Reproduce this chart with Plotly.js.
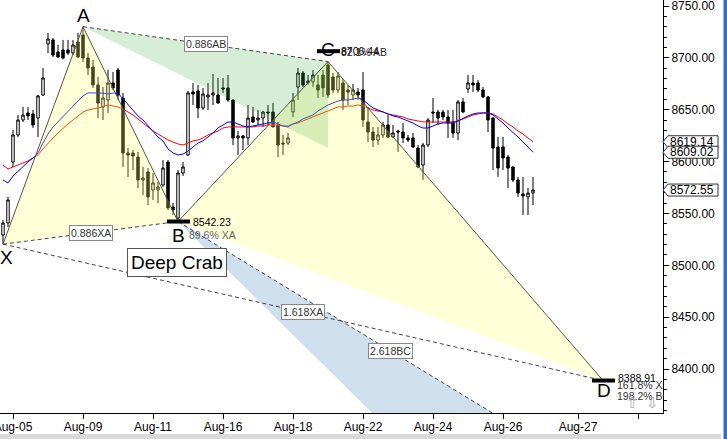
<!DOCTYPE html>
<html><head><meta charset="utf-8">
<script src="https://cdn.plot.ly/plotly-3.0.1.min.js"></script>
<style>html,body{margin:0;padding:0;background:#fff;}#chart{width:727px;height:439px;}</style>
</head><body><div id="chart"></div>
<script>
// ---- candle data (hourly bars) ----
const openP = [8529.2,8540.8,8599.6,8625.7,8640.1,8646.9,8645.9,8642.0,8664.2,8713.4,
8717.3,8705.7,8707.6,8707.6,8704.7,8715.3,8722.1,8699.9,8691.2,8673.9,
8652.7,8659.4,8675.8,8688.3,8661.3,8608.3,8608.3,8604.4,8582.3,8590.0,
8572.6,8572.6,8577.4,8599.6,8556.2,8545.6,8589.0,8606.4,8667.1,8668.1,
8651.7,8662.3,8664.2,8664.2,8671.0,8671.0,8659.4,8622.8,8624.7,8622.8,
8643.0,8640.1,8642.0,8647.8,8647.8,8635.3,8617.9,8617.9,8647.8,8671.9,
8685.4,8675.8,8676.8,8673.9,8683.5,8693.2,8681.6,8669.0,8675.8,8669.0,
8664.2,8667.1,8669.0,8638.2,8628.5,8620.8,8625.7,8635.3,8623.7,8629.5,
8628.5,8622.8,8622.8,8613.1,8596.7,8616.0,8647.8,8647.8,8647.8,8643.0,
8638.2,8627.6,8657.5,8670.0,8675.8,8675.8,8669.0,8662.3,8642.0,8614.1,
8614.1,8604.4,8594.8,8582.3,8568.8,8565.9,8569.7];
const highP = [8543.7,8565.9,8630.5,8644.9,8652.7,8652.7,8649.8,8664.2,8690.3,8724.0,
8719.2,8712.4,8717.3,8717.3,8717.3,8724.0,8730.06,8704.7,8698.0,8681.6,
8671.9,8688.3,8686.4,8690.3,8666.2,8613.1,8611.2,8609.3,8594.8,8593.8,
8589.0,8580.3,8601.5,8601.5,8560.1,8591.9,8599.6,8668.1,8675.8,8673.9,
8671.0,8675.8,8684.5,8680.6,8680.6,8683.5,8659.9,8629.5,8625.7,8654.6,
8652.7,8649.8,8648.8,8654.6,8656.5,8638.2,8625.7,8627.6,8666.2,8690.3,
8687.4,8683.5,8688.3,8683.5,8688.3,8696.44,8685.4,8686.4,8679.7,8673.9,
8674.8,8671.0,8686.4,8652.7,8633.4,8633.4,8638.2,8644.9,8635.3,8630.5,
8637.2,8625.7,8627.6,8616.0,8617.9,8642.0,8661.3,8649.8,8649.8,8649.8,
8649.8,8659.4,8661.3,8683.5,8683.5,8678.7,8671.9,8663.3,8643.0,8623.7,
8623.7,8606.4,8595.2,8585.1,8585.1,8574.5,8585.1];
const lowP = [8520.4,8536.9,8594.8,8623.7,8638.2,8640.1,8632.4,8623.7,8663.3,8704.7,
8700.9,8699.9,8698.5,8702.8,8702.8,8699.9,8696.0,8683.5,8671.0,8642.0,
8640.1,8646.9,8669.0,8659.4,8594.8,8585.1,8591.9,8574.5,8567.8,8558.1,
8563.0,8560.1,8575.5,8553.3,8548.5,8542.23,8586.1,8605.4,8654.6,8642.0,
8649.8,8649.8,8654.6,8656.0,8666.2,8657.5,8616.0,8606.4,8611.2,8616.0,
8637.2,8635.3,8633.4,8635.3,8633.0,8604.4,8606.4,8616.0,8643.0,8659.4,
8671.9,8673.9,8671.9,8661.3,8662.3,8661.3,8666.2,8666.2,8649.8,8654.6,
8659.4,8659.4,8633.4,8618.9,8614.1,8616.0,8622.8,8622.8,8622.8,8609.3,
8617.9,8618.9,8613.1,8593.8,8582.3,8614.1,8637.2,8635.3,8640.1,8622.8,
8622.8,8620.8,8646.9,8666.2,8667.1,8667.1,8661.3,8628.5,8591.9,8585.1,
8591.9,8574.5,8580.3,8565.9,8548.5,8548.5,8558.1];
const closeP = [8540.8,8563.0,8625.7,8640.1,8644.9,8644.0,8635.3,8663.3,8680.6,8718.2,
8702.8,8700.9,8699.9,8704.7,8712.4,8700.9,8699.9,8690.3,8673.9,8656.5,
8661.3,8675.8,8671.0,8664.2,8608.3,8606.4,8605.4,8582.3,8584.2,8565.9,
8579.4,8575.5,8593.8,8555.3,8553.3,8589.0,8594.8,8666.2,8665.2,8651.7,
8665.2,8664.2,8666.2,8656.5,8670.0,8659.4,8622.8,8624.7,8622.8,8642.0,
8638.2,8642.0,8647.8,8646.9,8633.4,8616.0,8617.0,8622.8,8659.4,8685.4,
8673.9,8677.7,8683.5,8669.0,8671.0,8664.2,8669.0,8682.5,8659.4,8667.1,
8669.0,8664.2,8640.1,8628.5,8620.8,8625.7,8635.3,8623.7,8627.6,8628.5,
8622.8,8620.8,8614.1,8594.8,8616.0,8640.1,8646.9,8642.0,8643.0,8637.2,
8627.6,8657.5,8647.8,8675.8,8673.9,8669.0,8662.3,8640.1,8613.1,8593.8,
8603.5,8593.8,8582.3,8569.7,8566.8,8569.7,8572.55];
// ---- moving averages ----
const maBlue = [8582.3,8579.4,8586.1,8590.9,8594.8,8599.6,8603.5,8608.3,8617.9,8626.6,
8633.4,8638.2,8643.0,8647.8,8652.7,8658.4,8663.3,8666.2,8666.2,8666.2,
8666.0,8665.2,8666.1,8666.0,8660.4,8655.5,8649.8,8644.0,8640.1,8634.3,
8628.5,8623.7,8619.9,8612.2,8608.3,8606.4,8607.3,8610.2,8614.1,8617.9,
8619.9,8623.7,8627.6,8632.4,8635.3,8638.2,8638.2,8636.3,8634.3,8633.4,
8634.3,8635.3,8636.3,8637.2,8638.2,8636.3,8634.3,8633.4,8636.3,8638.2,
8641.1,8643.0,8644.9,8648.8,8651.7,8654.6,8656.5,8658.4,8659.4,8659.4,
8660.4,8661.3,8659.4,8655.5,8651.7,8649.8,8647.8,8645.9,8644.0,8643.0,
8641.1,8639.2,8637.2,8634.3,8632.4,8632.4,8634.3,8636.3,8637.2,8637.2,
8637.2,8639.2,8642.0,8644.0,8645.9,8646.9,8646.9,8646.9,8644.9,8641.1,
8637.2,8632.4,8628.5,8623.7,8618.9,8614.1,8609.02];
const maRed = [8596.7,8592.9,8594.8,8596.7,8598.7,8600.6,8603.5,8606.4,8612.2,8617.9,
8622.8,8627.6,8632.4,8636.3,8640.1,8644.0,8647.8,8649.8,8650.7,8651.7,
8652.7,8654.6,8653.6,8652.7,8650.7,8647.8,8644.9,8641.1,8637.2,8633.4,
8629.5,8626.6,8623.7,8620.8,8618.9,8617.0,8616.0,8617.9,8619.9,8620.8,
8622.8,8625.7,8627.6,8629.5,8632.4,8633.4,8633.4,8633.4,8633.4,8633.4,
8633.4,8634.3,8634.3,8635.3,8635.3,8635.3,8634.3,8634.3,8636.3,8637.2,
8639.2,8641.1,8643.0,8644.9,8646.9,8648.8,8650.7,8652.7,8652.7,8653.6,
8653.6,8654.6,8653.6,8651.7,8649.8,8648.8,8647.8,8645.9,8644.9,8644.0,
8643.0,8641.1,8640.1,8639.2,8638.2,8638.2,8638.2,8638.2,8638.2,8638.2,
8638.2,8639.2,8641.1,8643.0,8644.9,8645.9,8646.9,8646.9,8645.9,8643.0,
8640.1,8636.3,8633.4,8629.5,8626.6,8622.8,8619.14];
// ---- axis ticks ----
const tickBars = [2,16,30,44,58,72,86,100,115,127];
const tickLabels = ['Aug-05','Aug-09','Aug-11','Aug-16','Aug-18','Aug-22','Aug-24','Aug-26','Aug-27',''];
// ---- harmonic pattern ----
const pointNames = ['X','A','B','C','D'];
const pointBars = [0,16,35,65,120];
const pointPrices = [8520.4,8730.06,8542.23,8696.44,8388.91];
const cMarkPrice = 8706.44;
const greenLowPrice = 8613.1;
const bc2618Price = 8292.7;
const bc3618Price = 8138.5;
const ratioLabels = ['0.886XA','0.886AB','1.618XA','2.618BC'];
const bRatioText = '89.6% XA';
const cRatioText = '82.1% AB';
const dRatioTexts = ['161.8% XA','198.2% BC'];
const patternName = 'Deep Crab';
const tagValues = [8619.14, 8609.02, 8572.55];

const idx = openP.map((_, i) => i);
const P = pointNames.map((n, k) => ({name: n, x: pointBars[k], y: pointPrices[k]}));
const [pX, pA, pB, pC, pD] = P;
const tri = (a, b, c) => `M${a.x},${a.y} L${b.x},${b.y} L${c.x},${c.y} Z`;
const yellow = 'rgba(255,255,110,0.27)';
const edge = 'rgb(85,85,70)';
const dashed = {color: '#444', width: 1, dash: '4px,3px'};
const shapes = [];
const area = (path, fill) => shapes.push({type: 'path', xref: 'x', yref: 'y', path, fillcolor: fill, line: {width: 0}, layer: 'above'});
area(tri(pX, pA, pB), yellow);
area(tri(pB, pC, pD), yellow);
area(tri(pA, pC, {x: pC.x, y: greenLowPrice}), 'rgba(70,175,70,0.22)');
area(tri(pB, {x: pD.x, y: bc3618Price}, {x: pD.x, y: bc2618Price}), 'rgba(60,120,185,0.24)');
const seg = (a, b, line) => shapes.push({type: 'line', xref: 'x', yref: 'y', x0: a.x, y0: a.y, x1: b.x, y1: b.y, line, layer: 'above'});
const solid = {color: edge, width: 1};
seg(pX, pA, solid); seg(pA, pB, solid); seg(pB, pC, solid); seg(pC, pD, solid);
const p2618 = {x: pD.x, y: bc2618Price};
seg(pX, pB, dashed); seg(pA, pC, dashed); seg(pX, pD, dashed); seg(pB, p2618, dashed);
// level bars
[[pB.x, pB.y], [pC.x, cMarkPrice], [pD.x, pD.y]].forEach(([bx, by]) => {
  shapes.push({type: 'line', xref: 'x', yref: 'y', x0: bx - 2.2, x1: bx + 2.4, y0: by, y1: by, line: {color: '#000', width: 4}, layer: 'above'});
});
// price tags on axis
tagValues.forEach(v => {
  shapes.push({type: 'path', xref: 'paper', yref: 'y', xsizemode: 'pixel', ysizemode: 'pixel', xanchor: 1, yanchor: v,
    path: 'M0,0 L5,6 L55,6 L55,-6 L5,-6 Z', fillcolor: '#fff', line: {color: '#333', width: 1}, layer: 'above'});
});
// window frame bits
shapes.push({type: 'rect', xref: 'paper', yref: 'paper', x0: 723.5/663, x1: 727/663, y0: -0.07, y1: 1, fillcolor: '#2d6fd8', line: {width: 0}, layer: 'above'});
shapes.push({type: 'rect', xref: 'paper', yref: 'paper', x0: 0, x1: 721/663, y0: -26/413, y1: -21/413, fillcolor: '#d9d9d9', line: {width: 0}, layer: 'above'});

const mid = (a, b) => ({x: (a.x + b.x) / 2, y: (a.y + b.y) / 2});
const annotations = [];
const letterShift = {X: [3, -13], A: [0, 11], B: [0, -14], C: [0, 12], D: [1, -10]};
P.forEach(p => annotations.push({x: p.x, y: p.y, xref: 'x', yref: 'y', text: p.name, showarrow: false,
  xshift: letterShift[p.name][0], yshift: letterShift[p.name][1], font: {size: 19, color: '#000'}}));
[[pX, pB], [pA, pC], [pX, pD], [pB, p2618]].forEach(([a, b], k) => {
  const m = mid(a, b);
  annotations.push({x: m.x, y: m.y, xref: 'x', yref: 'y', text: ratioLabels[k], showarrow: false,
    bgcolor: '#fff', bordercolor: '#888', borderwidth: 1, borderpad: 1, font: {size: 10.5, color: '#333'}});
});
annotations.push({x: pB.x, y: pB.y, xref: 'x', yref: 'y', text: patternName, showarrow: false, yshift: -41, xshift: -1,
  bgcolor: '#fff', bordercolor: '#555', borderwidth: 1, borderpad: 3, font: {size: 19, color: '#000'}});
annotations.push({x: pB.x, y: pB.y, xref: 'x', yref: 'y', text: pB.y.toFixed(2), showarrow: false, xanchor: 'left', xshift: 13, font: {size: 10.5, color: '#000'}});
annotations.push({x: pB.x, y: pB.y, xref: 'x', yref: 'y', text: bRatioText, showarrow: false, xanchor: 'left', xshift: 9, yshift: -13, font: {size: 10.5, color: '#666'}});
annotations.push({x: pC.x, y: cMarkPrice, xref: 'x', yref: 'y', text: cMarkPrice.toFixed(2), showarrow: false, xanchor: 'left', xshift: 11, font: {size: 10.5, color: '#000'}});
annotations.push({x: pC.x, y: cMarkPrice, xref: 'x', yref: 'y', text: cRatioText, showarrow: false, xanchor: 'left', xshift: 11, yshift: -1, font: {size: 10.5, color: '#222'}});
tagValues.forEach(v => annotations.push({x: 1, y: v, xref: 'paper', yref: 'y', text: v.toFixed(2), showarrow: false, xanchor: 'left', xshift: 5, font: {size: 12, color: '#000'}}));
annotations.push({x: pD.x, y: pD.y, xref: 'x', yref: 'y', text: '\u21E7', showarrow: false, xshift: 29, yshift: -22, font: {size: 15, color: '#aaa'}});
annotations.push({x: pD.x, y: pD.y, xref: 'x', yref: 'y', text: '\u21E9', showarrow: false, xshift: 49, yshift: -22, font: {size: 15, color: '#aaa'}});

const traces = [
  {type: 'candlestick', x: idx, open: openP, high: highP, low: lowP, close: closeP,
   increasing: {line: {color: '#000', width: 1}, fillcolor: '#fff'},
   decreasing: {line: {color: '#000', width: 1}, fillcolor: '#000'},
   whiskerwidth: 0, hoverinfo: 'skip', showlegend: false},
  {type: 'scatter', mode: 'lines', x: idx, y: maRed, line: {color: '#ff0000', width: 1}, hoverinfo: 'skip'},
  {type: 'scatter', mode: 'lines', x: idx, y: maBlue, line: {color: '#0000ff', width: 1}, hoverinfo: 'skip'},
  {type: 'scatter', mode: 'text', x: [pD.x + 3], y: [pD.y + 1], text: [pD.y.toFixed(2)], textposition: 'middle right', cliponaxis: true,
   textfont: {size: 10.5, color: '#000'}, hoverinfo: 'skip'},
  {type: 'scatter', mode: 'text', x: [pD.x + 2.8, pD.x + 2.8], y: [pD.y - 6, pD.y - 16.5], text: dRatioTexts, textposition: 'middle right', cliponaxis: true,
   textfont: {size: 10.5, color: '#333'}, hoverinfo: 'skip'}
];

const layout = {
  width: 727, height: 439,
  margin: {l: 0, r: 64, t: 0, b: 26, pad: 0},
  paper_bgcolor: '#fff', plot_bgcolor: '#fff', showlegend: false,
  font: {family: '"Liberation Sans", Arial, sans-serif', size: 12, color: '#000'},
  xaxis: {range: [-0.6, 132], tickmode: 'array', tickvals: tickBars, ticktext: tickLabels,
    ticks: 'outside', ticklen: 5, tickcolor: '#000', showgrid: false, zeroline: false,
    showline: true, linecolor: '#000', linewidth: 1, rangeslider: {visible: false}, fixedrange: true,
    ticklabeloverflow: 'allow', ticklabelstandoff: -2},
  yaxis: {side: 'right', range: [8357.6, 8755.8], tick0: 8400, dtick: 50, tickformat: '.2f',
    ticks: 'outside', ticklen: 5, tickcolor: '#000', showgrid: false, zeroline: false,
    showline: true, linecolor: '#000', linewidth: 1, fixedrange: true, ticklabeloverflow: 'allow',
    minor: {dtick: 10, ticks: 'outside', ticklen: 3, tickcolor: '#000', showgrid: false}},
  shapes, annotations
};
Plotly.newPlot('chart', traces, layout, {staticPlot: true, displayModeBar: false});
</script></body></html>
